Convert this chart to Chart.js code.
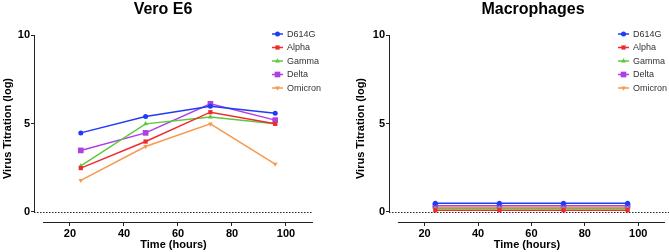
<!DOCTYPE html>
<html>
<head>
<meta charset="utf-8">
<script src="https://cdn.jsdelivr.net/npm/chart.js@4.4.1/dist/chart.umd.min.js"></script>
<style>
  html, body { margin: 0; padding: 0; background: #fff; }
  #wrap { position: relative; width: 669px; height: 252px; }
  .panel { position: absolute; top: 0; height: 252px; }
</style>
</head>
<body>
<div id="wrap">
  <div class="panel" style="left:0;width:335px"><canvas id="vero"></canvas></div>
  <div class="panel" style="left:335px;width:334px"><canvas id="macro"></canvas></div>
</div>
<script>
const hours = [24, 48, 72, 96];
const variants = ["D614G", "Alpha", "Gamma", "Delta", "Omicron"];

// Vero E6 titres (log)
const veroD614G = [4.47, 5.39, 5.98, 5.58];
const veroAlpha = [2.48, 3.98, 5.64, 4.98];
const veroGamma = [2.61, 4.98, 5.36, 4.98];
const veroDelta = [3.48, 4.47, 6.11, 5.19];
const veroOmicron = [1.79, 3.70, 4.98, 2.71];

// Macrophages titres (log)
const macroD614G = [0.5, 0.5, 0.5, 0.5];
const macroAlpha = [0.1, 0.1, 0.1, 0.1];
const macroGamma = [0.2, 0.2, 0.2, 0.2];
const macroDelta = [0.35, 0.35, 0.35, 0.35];
const macroOmicron = [0.25, 0.25, 0.25, 0.25];

const yTicks = [0, 5, 10];
const xTicks = [20, 40, 60, 80, 100];

const colors = ["#1f3cf5", "#ef2b30", "#5cc83a", "#ad3fe4", "#f7994f"];
const shapes = ["circle", "rect", "triangle", "rect", "triangle"];
const radii = [2.5, 3, 2.8, 4, 2.8];
const rotations = [0, 0, 0, 0, 180];

const FONT = "'Liberation Sans', Arial, sans-serif";

function makeDatasets(series) {
  return series.map((vals, i) => ({
    label: variants[i],
    data: vals.map((v, j) => ({ x: hours[j], y: v })),
    borderColor: colors[i],
    backgroundColor: colors[i],
    borderWidth: 1.5,
    pointStyle: shapes[i],
    pointRadius: radii[i],
    pointRotation: rotations[i],
    pointBorderWidth: 0,
    tension: 0,
  }));
}

const prismAxes = {
  id: "prismAxes",
  beforeDatasetsDraw(chart, args, opts) {
    const { ctx, chartArea, scales: { x, y } } = chart;
    const y0 = y.getPixelForValue(0);
    ctx.save();
    ctx.strokeStyle = "#222";
    ctx.lineWidth = 1;
    ctx.beginPath();
    ctx.moveTo(chartArea.left + 0.5, y.getPixelForValue(10));
    ctx.lineTo(chartArea.left + 0.5, y0);
    ctx.moveTo(x.getPixelForValue(10), chartArea.bottom + 0.5);
    ctx.lineTo(x.getPixelForValue(110), chartArea.bottom + 0.5);
    ctx.stroke();
    ctx.setLineDash([1.5, 1.5]);
    ctx.beginPath();
    ctx.moveTo(chartArea.left, Math.round(y0) + 0.5);
    ctx.lineTo(opts.zeroToEdge ? chart.width : chartArea.right, Math.round(y0) + 0.5);
    ctx.stroke();
    ctx.restore();
  },
  afterDraw(chart, args, opts) {
    const ctx = chart.ctx;
    ctx.save();
    // panel title
    ctx.fillStyle = "#000";
    ctx.font = "bold 16px " + FONT;
    ctx.textAlign = "center";
    ctx.textBaseline = "alphabetic";
    ctx.fillText(opts.title, opts.titleX, 14);
    // key
    ctx.font = "9px " + FONT;
    ctx.textAlign = "left";
    ctx.textBaseline = "middle";
    chart.data.datasets.forEach((ds, i) => {
      const cy = 34 + i * 13.5;
      ctx.strokeStyle = ds.borderColor;
      ctx.lineWidth = 1.5;
      ctx.beginPath();
      ctx.moveTo(opts.keyX, cy);
      ctx.lineTo(opts.keyX + 11, cy);
      ctx.stroke();
      ctx.fillStyle = ds.backgroundColor;
      Chart.helpers.drawPoint(ctx, {
        pointStyle: ds.pointStyle,
        radius: ds.pointRadius,
        rotation: ds.pointRotation,
        borderWidth: 0,
      }, opts.keyX + 5.5, cy);
      ctx.fillStyle = "#333";
      ctx.fillText(ds.label, opts.keyX + 15, cy + 0.5);
    });
    ctx.restore();
  },
};

function PrismLineChart(ctx, series, panel) {
  return new Chart(ctx, {
    type: "line",
    data: { datasets: makeDatasets(series) },
    plugins: [prismAxes],
    options: {
      responsive: true,
      maintainAspectRatio: false,
      animation: false,
      layout: {
        padding: { top: 35, left: panel.padLeft, right: panel.padRight, bottom: 0 },
      },
      plugins: {
        legend: { display: false },
        tooltip: { enabled: false },
        prismAxes: {
          title: panel.title,
          titleX: panel.titleX,
          keyX: panel.keyX,
          zeroToEdge: panel.zeroToEdge,
        },
      },
      scales: {
        x: {
          type: "linear",
          min: 6.67,
          max: 110,
          afterBuildTicks: (s) => { s.ticks = xTicks.map((v) => ({ value: v })); },
          afterFit: (s) => { s.height = 30; },
          border: { display: false },
          grid: {
            display: true,
            drawOnChartArea: false,
            drawTicks: true,
            tickLength: 4,
            color: "#222",
          },
          ticks: {
            color: "#000",
            padding: 1,
            maxRotation: 0,
            font: { size: 11, weight: "bold", family: FONT },
          },
          title: {
            display: true,
            text: "Time (hours)",
            color: "#000",
            padding: { top: 3, bottom: 0 },
            font: { size: 11, weight: "bold", family: FONT },
          },
        },
        y: {
          min: -0.565,
          max: 10,
          afterBuildTicks: (s) => { s.ticks = yTicks.map((v) => ({ value: v })); },
          afterFit: (s) => { s.width = panel.yWidth; },
          border: { display: false },
          grid: {
            display: true,
            drawOnChartArea: false,
            drawTicks: true,
            tickLength: 3,
            color: "#222",
          },
          ticks: {
            color: "#000",
            padding: 1,
            font: { size: 11, weight: "bold", family: FONT },
          },
          title: {
            display: true,
            text: "Virus Titration (log)",
            color: "#000",
            padding: { top: 1, bottom: 0 },
            font: { size: 11, weight: "bold", family: FONT },
          },
        },
      },
    },
  });
}

PrismLineChart(
  document.getElementById("vero"),
  [veroD614G, veroAlpha, veroGamma, veroDelta, veroOmicron],
  { title: "Vero E6", titleX: 163, keyX: 272, padLeft: 0, padRight: 22, yWidth: 34, zeroToEdge: false }
);

PrismLineChart(
  document.getElementById("macro"),
  [macroD614G, macroAlpha, macroGamma, macroDelta, macroOmicron],
  { title: "Macrophages", titleX: 198, keyX: 283, padLeft: 18, padRight: 2, yWidth: 36, zeroToEdge: true }
);
</script>
</body>
</html>
